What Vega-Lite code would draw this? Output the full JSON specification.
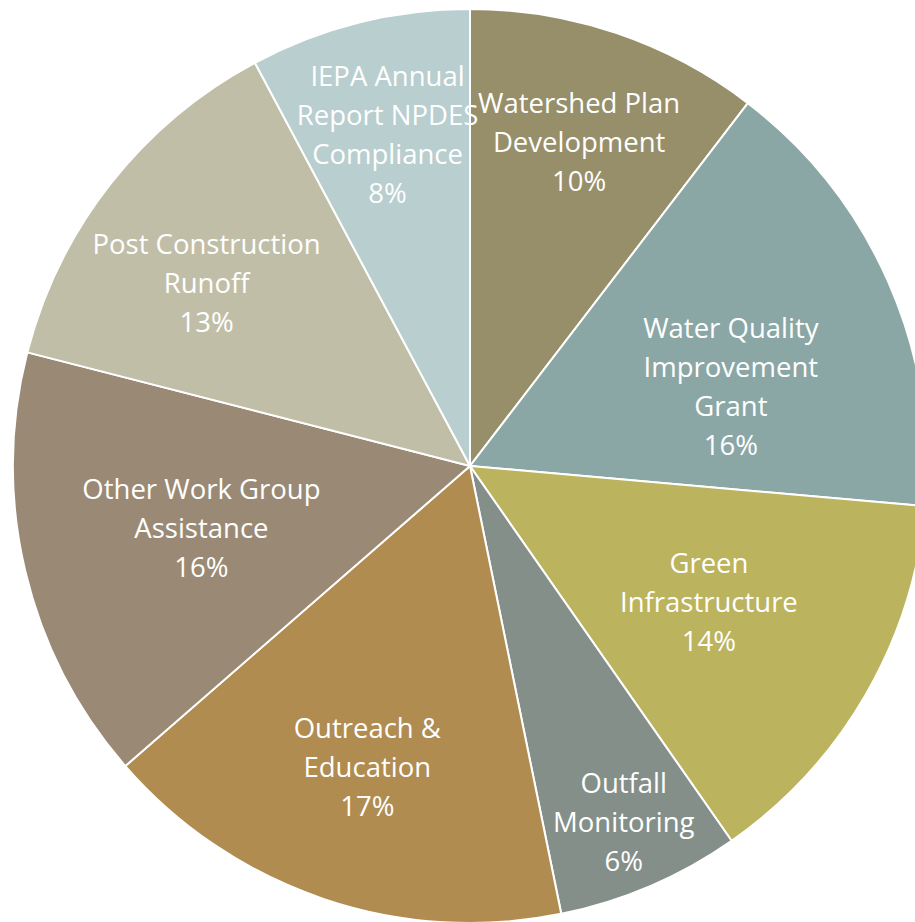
{
  "$schema": "https://vega.github.io/schema/vega-lite/v6.json",
  "width": 940,
  "height": 932,
  "padding": 0,
  "autosize": {"type": "none"},
  "background": "white",
  "config": {"view": {"stroke": null}, "text": {"font": "Open Sans", "fontSize": 27.5, "lineHeight": 39, "lineBreak": "\n", "color": "white", "align": "center", "baseline": "middle"}},
  "data": {
    "values": [
      {"idx": 1, "category": "Watershed Plan Development", "value": 10.4, "label": "Watershed Plan\nDevelopment\n10%"},
      {"idx": 2, "category": "Water Quality Improvement Grant", "value": 16.0, "label": "Water Quality\nImprovement\nGrant\n16%"},
      {"idx": 3, "category": "Green Infrastructure", "value": 13.9, "label": "Green\nInfrastructure\n14%"},
      {"idx": 4, "category": "Outfall Monitoring", "value": 6.5, "label": "Outfall\nMonitoring\n6%"},
      {"idx": 5, "category": "Outreach & Education", "value": 16.8, "label": "Outreach &\nEducation\n17%"},
      {"idx": 6, "category": "Other Work Group Assistance", "value": 15.4, "label": "Other Work Group\nAssistance\n16%"},
      {"idx": 7, "category": "Post Construction Runoff", "value": 13.2, "label": "Post Construction\nRunoff\n13%"},
      {"idx": 8, "category": "IEPA Annual Report NPDES Compliance", "value": 7.8, "label": "IEPA Annual\nReport NPDES\nCompliance\n8%"}
    ]
  },
  "encoding": {
    "theta": {"field": "value", "type": "quantitative", "stack": true},
    "order": {"field": "idx", "type": "quantitative"}
  },
  "layer": [
    {
      "mark": {"type": "arc", "outerRadius": 457, "stroke": "white", "strokeWidth": 2},
      "encoding": {
        "color": {
          "field": "category",
          "type": "nominal",
          "scale": {
            "domain": ["Watershed Plan Development", "Water Quality Improvement Grant", "Green Infrastructure", "Outfall Monitoring", "Outreach & Education", "Other Work Group Assistance", "Post Construction Runoff", "IEPA Annual Report NPDES Compliance"],
            "range": ["#968F6A", "#8AA7A6", "#BBB35D", "#848F8A", "#B08C50", "#9A8A75", "#C1BEA8", "#B8CECF"]
          },
          "legend": null
        }
      }
    },
    {
      "mark": {"type": "text", "radius": 285, "dy": -21},
      "encoding": {
        "text": {"condition": {"test": "datum.idx == 2", "field": "label"}, "value": ""}
      }
    },
    {
      "mark": {"type": "text", "radius": 276, "dy": -39},
      "encoding": {
        "text": {"condition": {"test": "datum.idx == 3 || datum.idx == 6", "field": "label"}, "value": ""}
      }
    },
    {
      "mark": {"type": "text", "radius": 340, "dy": -39},
      "encoding": {
        "text": {"condition": {"test": "datum.idx == 1", "field": "label"}, "value": ""}
      }
    },
    {
      "mark": {"type": "text", "radius": 340, "dy": -58.5},
      "encoding": {
        "text": {"condition": {"test": "datum.idx == 8", "field": "label"}, "value": ""}
      }
    },
    {
      "mark": {"type": "text", "radius": 320, "dy": -39},
      "encoding": {
        "text": {"condition": {"test": "datum.idx == 5", "field": "label"}, "value": ""}
      }
    },
    {
      "mark": {"type": "text", "radius": 335, "dy": -13},
      "encoding": {
        "text": {"condition": {"test": "datum.idx == 7", "field": "label"}, "value": ""}
      }
    },
    {
      "mark": {"type": "text", "radius": 390, "dy": -39},
      "encoding": {
        "text": {"condition": {"test": "datum.idx == 4", "field": "label"}, "value": ""}
      }
    }
  ]
}
